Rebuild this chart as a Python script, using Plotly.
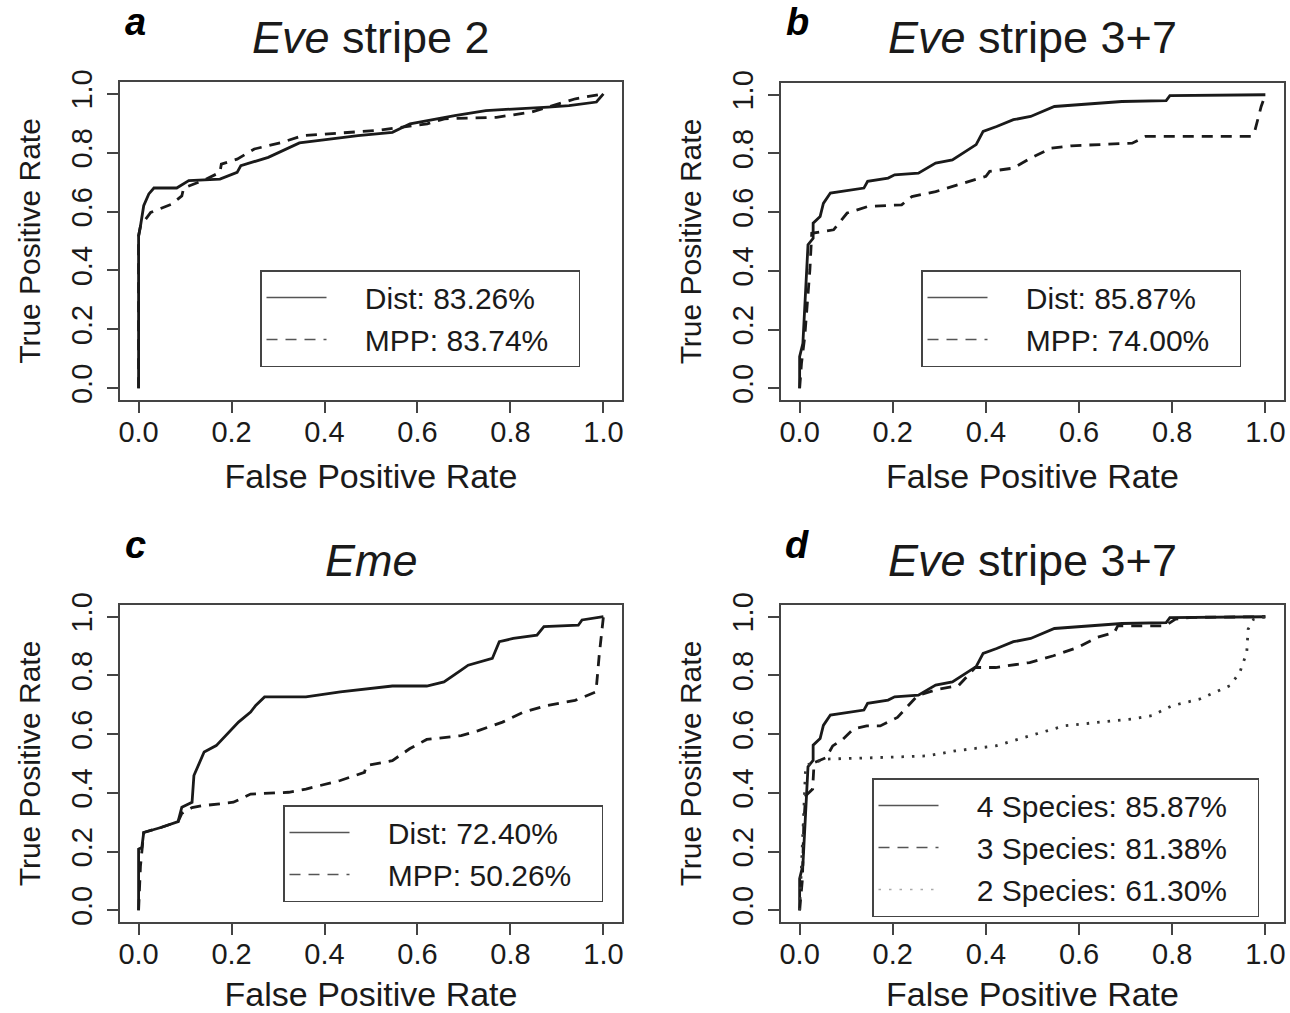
import plotly.graph_objects as go

# ---------------- data ----------------
tick_vals = [0.0, 0.2, 0.4, 0.6, 0.8, 1.0]
tick_text = ["0.0", "0.2", "0.4", "0.6", "0.8", "1.0"]

panel_letters = ["a", "b", "c", "d"]
panel_titles = ["<i>Eve</i> stripe 2", "<i>Eve</i> stripe 3+7", "<i>Eme</i>", "<i>Eve</i> stripe 3+7"]

# panel a : Eve stripe 2
a_dist_x = [0, 0, 0.004, 0.011, 0.022, 0.033, 0.082, 0.108, 0.175, 0.212, 0.22, 0.279, 0.346, 0.472,
            0.546, 0.584, 0.68, 0.747, 0.881, 0.926, 0.985, 1.0]
a_dist_y = [0, 0.517, 0.55, 0.62, 0.66, 0.68, 0.68, 0.705, 0.71, 0.733, 0.756, 0.784, 0.833, 0.858,
            0.869, 0.898, 0.926, 0.943, 0.955, 0.96, 0.972, 1.0]
a_mpp_x = [0, 0, 0.004, 0.019, 0.026, 0.071, 0.093, 0.097, 0.138, 0.175, 0.178, 0.212, 0.249, 0.309,
           0.353, 0.51, 0.561, 0.621, 0.658, 0.77, 0.844, 0.881, 0.94, 1.0]
a_mpp_y = [0, 0.517, 0.55, 0.585, 0.597, 0.625, 0.653, 0.68, 0.705, 0.733, 0.761, 0.778, 0.8125, 0.835,
           0.858, 0.875, 0.886, 0.898, 0.915, 0.92, 0.9375, 0.955, 0.983, 1.0]
a_labels = ["Dist: 83.26%", "MPP: 83.74%"]

# panel b : Eve stripe 3+7 (Dist is also the 4-species curve of panel d)
b_dist_x = [0, 0, 0.007, 0.011, 0.018, 0.029, 0.029, 0.044, 0.051, 0.066, 0.138, 0.146, 0.19, 0.204,
            0.255, 0.292, 0.328, 0.379, 0.394, 0.423, 0.459, 0.496, 0.547, 0.692, 0.787, 0.795, 1.0]
b_dist_y = [0, 0.108, 0.153, 0.267, 0.489, 0.511, 0.5625, 0.585, 0.63, 0.665, 0.682, 0.705, 0.716, 0.727,
            0.733, 0.767, 0.778, 0.83, 0.875, 0.892, 0.915, 0.926, 0.96, 0.977, 0.98, 0.997, 1.0]
b_mpp_x = [0, 0.004, 0.011, 0.022, 0.026, 0.073, 0.102, 0.146, 0.219, 0.241, 0.292, 0.35, 0.4, 0.408,
           0.459, 0.496, 0.54, 0.583, 0.714, 0.743, 0.969, 0.977, 0.991, 1.0]
b_mpp_y = [0, 0.085, 0.176, 0.403, 0.528, 0.54, 0.597, 0.619, 0.625, 0.653, 0.67, 0.699, 0.722, 0.739,
           0.75, 0.784, 0.818, 0.826, 0.835, 0.858, 0.858, 0.875, 0.96, 1.0]
b_labels = ["Dist: 85.87%", "MPP: 74.00%"]

# panel c : Eme
c_dist_x = [0, 0, 0.007, 0.011, 0.048, 0.085, 0.093, 0.115, 0.119, 0.141, 0.167, 0.215, 0.241, 0.252,
            0.271, 0.36, 0.434, 0.546, 0.62, 0.657, 0.694, 0.709, 0.761, 0.776, 0.806, 0.857, 0.872,
            0.946, 0.954, 1.0]
c_dist_y = [0, 0.208, 0.214, 0.265, 0.282, 0.302, 0.351, 0.368, 0.459, 0.539, 0.561, 0.641, 0.675, 0.698,
            0.727, 0.727, 0.744, 0.764, 0.764, 0.778, 0.818, 0.835, 0.858, 0.915, 0.926, 0.937, 0.966,
            0.971, 0.989, 1.0]
c_mpp_x = [0, 0.004, 0.007, 0.011, 0.048, 0.085, 0.093, 0.115, 0.137, 0.204, 0.241, 0.323, 0.36, 0.434,
           0.486, 0.49, 0.546, 0.583, 0.62, 0.694, 0.731, 0.783, 0.828, 0.88, 0.939, 0.984, 0.991, 1.0]
c_mpp_y = [0, 0.15, 0.2, 0.265, 0.282, 0.302, 0.33, 0.35, 0.356, 0.368, 0.396, 0.402, 0.413, 0.442,
           0.47, 0.493, 0.51, 0.55, 0.582, 0.595, 0.612, 0.641, 0.675, 0.698, 0.715, 0.744, 0.869, 1.0]
c_labels = ["Dist: 72.40%", "MPP: 50.26%"]

# panel d : Eve stripe 3+7, number of species
d_sp4_x = b_dist_x
d_sp4_y = b_dist_y
d_sp3_x = [0, 0.006, 0.009, 0.013, 0.028, 0.031, 0.057, 0.071, 0.093, 0.115, 0.144, 0.173, 0.21, 0.253,
           0.297, 0.341, 0.377, 0.421, 0.494, 0.545, 0.596, 0.639, 0.676, 0.683, 0.785, 0.807, 0.843, 1.0]
d_sp3_y = [0, 0.106, 0.299, 0.39, 0.413, 0.503, 0.52, 0.56, 0.583, 0.617, 0.628, 0.628, 0.657, 0.731,
           0.753, 0.765, 0.827, 0.827, 0.844, 0.867, 0.895, 0.93, 0.947, 0.969, 0.969, 0.992, 0.998, 1.0]
d_sp2_x = [0, 0.005, 0.013, 0.028, 0.057, 0.166, 0.275, 0.334, 0.421, 0.494, 0.567, 0.639, 0.712, 0.756,
           0.8, 0.858, 0.901, 0.924, 0.945, 0.96, 0.963, 0.975, 1.0]
d_sp2_y = [0, 0.2, 0.492, 0.503, 0.515, 0.52, 0.526, 0.543, 0.56, 0.594, 0.628, 0.64, 0.651, 0.663,
           0.697, 0.719, 0.748, 0.765, 0.81, 0.878, 0.958, 0.992, 1.0]
d_labels = ["4 Species: 85.87%", "3 Species: 81.38%", "2 Species: 61.30%"]

# ---------------- figure ----------------
W, H = 1290, 1013
OFF = 0   # page body margin is removed below


def px_x(X):
    return (X - OFF) / W


def px_y(Y):
    return 1 - (Y - OFF) / H


FONT = "Liberation Sans, Arial, Helvetica, sans-serif"
INK = "#1a1a1a"
BOX = "#444444"
NB = "\u00a0"

# plot-box pixel edges in the reference
boxes = [
    (120, 622, 82, 400),
    (781, 1284, 83, 400),
    (120, 622, 605, 922),
    (781, 1284, 605, 922),
]

styles = {
    "solid": dict(dash="solid"),
    "dash": dict(dash="11px,8px"),
    "dot": dict(dash="2.5px,8px"),
}

panels = [
    [(a_dist_x, a_dist_y, "solid", INK), (a_mpp_x, a_mpp_y, "dash", INK)],
    [(b_dist_x, b_dist_y, "solid", INK), (b_mpp_x, b_mpp_y, "dash", INK)],
    [(c_dist_x, c_dist_y, "solid", INK), (c_mpp_x, c_mpp_y, "dash", INK)],
    [(d_sp4_x, d_sp4_y, "solid", INK), (d_sp3_x, d_sp3_y, "dash", INK), (d_sp2_x, d_sp2_y, "dot", "#333333")],
]
labels = [a_labels, b_labels, c_labels, d_labels]
legend_styles = [["solid", "dash"], ["solid", "dash"], ["solid", "dash"], ["solid", "dash", "dot"]]
legend_colors = [["#555", "#555"], ["#555", "#555"], ["#555", "#555"], ["#555", "#555", "#aaa"]]

# legend top-left corners (reference pixels) and text padding
legend_pos = [(260, 270), (921, 270), (283, 805), (872, 778)]
legend_pad = [(4, 3), (4, 3), (4, 3), (4, 3)]

fig = go.Figure()
layout = dict(
    width=W, height=H, margin=dict(l=0, r=0, t=0, b=0, autoexpand=False),
    paper_bgcolor="white", plot_bgcolor="white",
    font=dict(family=FONT, color=INK),
    showlegend=True,
)
annotations = []

for i in range(4):
    k = "" if i == 0 else str(i + 1)
    xa, ya = "x" + k, "y" + k
    leg = "legend" if i == 0 else "legend" + str(i + 1)
    for (xs, ys, st, col) in panels[i]:
        fig.add_trace(go.Scatter(
            x=xs, y=ys, mode="lines", xaxis=xa, yaxis=ya, showlegend=False,
            line=dict(color=col, width=2.8, **styles[st]),
            hoverinfo="skip"))
    pl, pr = legend_pad[i]
    for lab, st, col in zip(labels[i], legend_styles[i], legend_colors[i]):
        fig.add_trace(go.Scatter(
            x=[None], y=[None], mode="lines", xaxis=xa, yaxis=ya,
            name=NB * pl + lab + NB * pr,
            legend=leg, showlegend=True,
            line=dict(color=col, width=1.3, **styles[st])))

    L, R, T, B = boxes[i]
    axis_common = dict(
        range=[-0.04, 1.04], tickmode="array", tickvals=tick_vals, ticktext=tick_text,
        showline=True, mirror=True, linecolor=BOX, linewidth=1.5,
        ticks="outside", ticklen=11, tickwidth=1.5, tickcolor=BOX,
        showgrid=False, zeroline=False, fixedrange=True, automargin=False,
        ticklabeloverflow="allow",
        tickfont=dict(family=FONT, size=29, color=INK),
    )
    layout["xaxis" + k] = dict(
        axis_common, domain=[px_x(L), px_x(R)], anchor=ya,
        ticklabelstandoff=-6,
        title=dict(text="False Positive Rate", font=dict(family=FONT, size=34, color=INK), standoff=18),
    )
    layout["yaxis" + k] = dict(
        axis_common, domain=[px_y(B), px_y(T)], anchor=xa, tickangle=-90,
        ticklabelstandoff=4,
        title=dict(text="True Positive Rate", font=dict(family=FONT, size=30, color=INK), standoff=16),
    )
    lx, ly = legend_pos[i]
    layout[leg] = dict(
        x=px_x(lx), y=px_y(ly), xanchor="left", yanchor="top",
        bgcolor="white", bordercolor=BOX, borderwidth=1.5,
        font=dict(family=FONT, size=30, color=INK),
        itemwidth=60, tracegroupgap=0, traceorder="normal",
    )
    # title and panel letter
    cx = (px_x(L) + px_x(R)) / 2
    ty = 38 if i < 2 else 560
    annotations.append(dict(
        text=panel_titles[i], x=cx, y=px_y(ty), xref="paper", yref="paper",
        xanchor="center", yanchor="middle", showarrow=False,
        font=dict(family=FONT, size=45, color=INK)))
    lxl = 135 if i % 2 == 0 else 797
    lyl = 22 if i < 2 else 545
    annotations.append(dict(
        text="<b><i>" + panel_letters[i] + "</i></b>", x=px_x(lxl), y=px_y(lyl),
        xref="paper", yref="paper", xanchor="center", yanchor="middle", showarrow=False,
        font=dict(family=FONT, size=38, color="black")))

layout["annotations"] = annotations
fig.update_layout(**layout)
fig.write_html(
    "out.html",
    config={"displayModeBar": False, "staticPlot": False},
    post_script="document.body.style.margin='0';document.body.style.overflow='hidden';",
)
